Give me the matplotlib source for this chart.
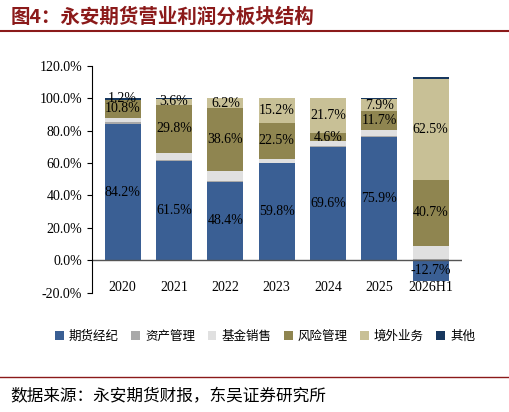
import numpy as np
import matplotlib.pyplot as plt
from matplotlib.ticker import FuncFormatter

plt.rcParams['font.family'] = ['Liberation Serif', 'Noto Sans CJK SC']

years = ['2020', '2021', '2022', '2023', '2024', '2025', '2026H1']
series = ['期货经纪', '资产管理', '基金销售', '风险管理', '境外业务', '其他']
colors = ['#3a5f94', '#a9a9a9', '#e0e0e0', '#8f8550', '#c8c096', '#17375e']
futures = [84.2, 61.5, 48.4, 59.8, 69.6, 75.9, -12.7]
asset = [1.0, 0.3, 0.5, 0.5, 1.0, 0.5, 0.5]
fund = [2.8, 4.5, 6.3, 2.2, 3.1, 3.8, 8.3]
risk = [10.8, 29.8, 38.6, 22.5, 4.6, 11.7, 40.7]
overseas = [0.0, 3.6, 6.2, 15.2, 21.7, 7.9, 62.5]
other = [1.2, 0.3, 0.0, -0.5, 0.0, 0.5, 1.0]
data = [futures, asset, fund, risk, overseas, other]

fig = plt.figure(figsize=(5.10, 4.12), dpi=100)
ax = fig.add_axes([0.18, 0.29, 0.725, 0.55])
x = np.arange(len(years))
pos = np.zeros(len(years))
neg = np.zeros(len(years))
for i, vals in enumerate(data):
    v = np.array(vals)
    bottom = np.where(v >= 0, pos, neg)
    ax.bar(x, v, 0.7, bottom=bottom, color=colors[i], label=series[i])
    if i in (0, 3, 4):
        for j in range(len(years)):
            if abs(v[j]) >= 3:
                ax.text(x[j], bottom[j] + v[j] / 2, f'{v[j]:.1f}%', ha='center', va='center', fontsize=10)
    if i == 5:
        ax.text(x[0], bottom[0] + v[0] / 2 + 0.5, f'{v[0]:.1f}%', ha='center', va='center', fontsize=10)
    pos = np.where(v >= 0, pos + v, pos)
    neg = np.where(v < 0, neg + v, neg)

ax.set_ylim(-20, 120)
ax.set_yticks(range(-20, 121, 20))
ax.yaxis.set_major_formatter(FuncFormatter(lambda v, p: f'{v:.1f}%'))
ax.set_xticks(x)
ax.set_xticklabels(years)
ax.set_xlim(-0.6, 6.6)
for s in ['top', 'right', 'bottom']:
    ax.spines[s].set_visible(False)
ax.axhline(0, color='#555555', lw=1)
ax.tick_params(axis='x', length=0, labelsize=10, pad=-8)
ax.tick_params(axis='y', labelsize=10)

fig.legend(loc='lower center', bbox_to_anchor=(0.52, 0.14), ncol=6, frameon=False,
           fontsize=9, handlelength=0.7, handletextpad=0.4, columnspacing=1.0)
fig.text(0.02, 0.945, '图4：永安期货营业利润分板块结构', fontsize=14, fontweight='bold', color='#8b1a1a',
         family=['Noto Sans CJK SC'])
fig.add_artist(plt.Line2D([0.0, 1.0], [0.925, 0.925], color='#8b1a1a', lw=1.5))
fig.add_artist(plt.Line2D([0.0, 1.0], [0.085, 0.085], color='#8b1a1a', lw=1))
fig.text(0.02, 0.025, '数据来源：永安期货财报，东吴证券研究所', fontsize=12, family=['Noto Sans CJK SC'])
fig.savefig('out.png')
